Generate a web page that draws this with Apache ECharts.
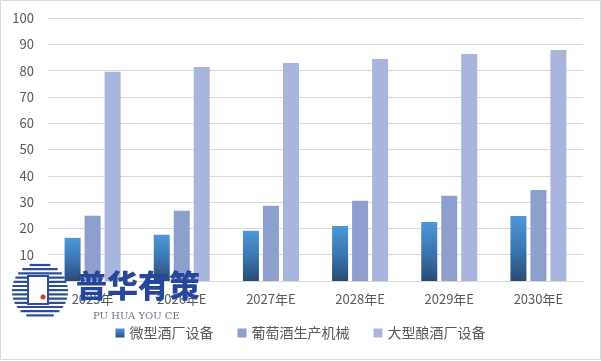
<!DOCTYPE html>
<html><head><meta charset="utf-8">
<script src="https://cdn.jsdelivr.net/npm/echarts@6/dist/echarts.min.js"></script>
<style>html,body{margin:0;padding:0;background:#fff}#c{width:601px;height:361px}</style>
</head><body><div id="c"></div>
<script>
const categories = ['2025年', '2026年E', '2027年E', '2028年E', '2029年E', '2030年E'];
const seriesNames = ['微型酒厂设备', '葡萄酒生产机械', '大型酿酒厂设备'];
const microBrewery = [16.4, 17.6, 19.1, 20.9, 22.4, 24.7];
const wineMachinery = [24.8, 26.7, 28.6, 30.5, 32.4, 34.6];
const largeBrewery = [79.6, 81.4, 82.9, 84.4, 86.3, 87.8];
const yTicks = {min: 0, max: 100, interval: 10};

const font = '"Noto Sans CJK SC", "Microsoft YaHei", sans-serif';
const chart = echarts.init(document.getElementById('c'), null, {renderer: 'canvas'});

// watermark logo stripes (decoration only)
const logoCx = 40, logoCy = 291, logoR = 28;
const stripes = [];
for (let y = logoCy - logoR + 2; y <= logoCy + logoR - 2; y += 4.2) {
  const dy = y - logoCy;
  const half = Math.sqrt(Math.max(0, logoR * logoR - dy * dy));
  stripes.push({type: 'line', silent: true, z: 100,
    shape: {x1: logoCx - half, y1: y, x2: logoCx + half, y2: y},
    style: {stroke: '#2d4f97', lineWidth: 2.2}});
}

chart.setOption({
  animation: false,
  backgroundColor: '#fff',
  grid: {left: 48, right: 18, top: 18, bottom: 80, containLabel: false},
  legend: {
    bottom: 16, left: 'center', itemWidth: 9, itemHeight: 9, itemGap: 24,
    icon: 'rect',
    textStyle: {fontFamily: font, fontSize: 14, color: '#595959'},
    data: seriesNames
  },
  xAxis: {
    type: 'category', data: categories,
    axisLine: {lineStyle: {color: '#d9d9d9'}},
    axisTick: {show: false},
    axisLabel: {fontFamily: font, fontSize: 13, color: '#595959', margin: 12}
  },
  yAxis: {
    type: 'value', min: yTicks.min, max: yTicks.max, interval: yTicks.interval,
    axisLine: {show: false}, axisTick: {show: false},
    axisLabel: {fontFamily: font, fontSize: 13, color: '#595959', margin: 14},
    splitLine: {lineStyle: {color: '#d9d9d9'}}
  },
  series: [
    {name: seriesNames[0], type: 'bar', data: microBrewery, barWidth: 16, barGap: '25%',
     itemStyle: {color: new echarts.graphic.LinearGradient(0, 0, 0, 1, [
       {offset: 0, color: '#4d98d8'}, {offset: 0.55, color: '#3a73ad'}, {offset: 1, color: '#2a4a72'}])}},
    {name: seriesNames[1], type: 'bar', data: wineMachinery, barWidth: 16, barGap: '25%',
     itemStyle: {color: '#8e9fcd'}},
    {name: seriesNames[2], type: 'bar', data: largeBrewery, barWidth: 16, barGap: '25%',
     itemStyle: {color: '#a9b5dd'}}
  ],
  graphic: [
    {type: 'rect', silent: true, z: 0, shape: {x: 0.5, y: 0.5, width: 600, height: 359},
     style: {fill: 'none', stroke: '#d9d9d9', lineWidth: 1}},
    ...stripes,
    {type: 'rect', silent: true, z: 101, shape: {x: 28, y: 276, width: 20, height: 28},
     style: {fill: '#fff', stroke: '#2d4f97', lineWidth: 2}},
    {type: 'circle', silent: true, z: 102, shape: {cx: 43, cy: 297, r: 2.5},
     style: {fill: '#d23a2a'}},
    {type: 'text', silent: true, z: 100, left: 76, top: 270,
     style: {text: '普华有策', font: '900 31px ' + font, fill: '#25469a'}},
    {type: 'text', silent: true, z: 100, left: 93, top: 311,
     style: {text: 'PU HUA YOU CE', font: '10px "DejaVu Serif", serif', fill: '#6d7284'}}
  ]
});
</script></body></html>
